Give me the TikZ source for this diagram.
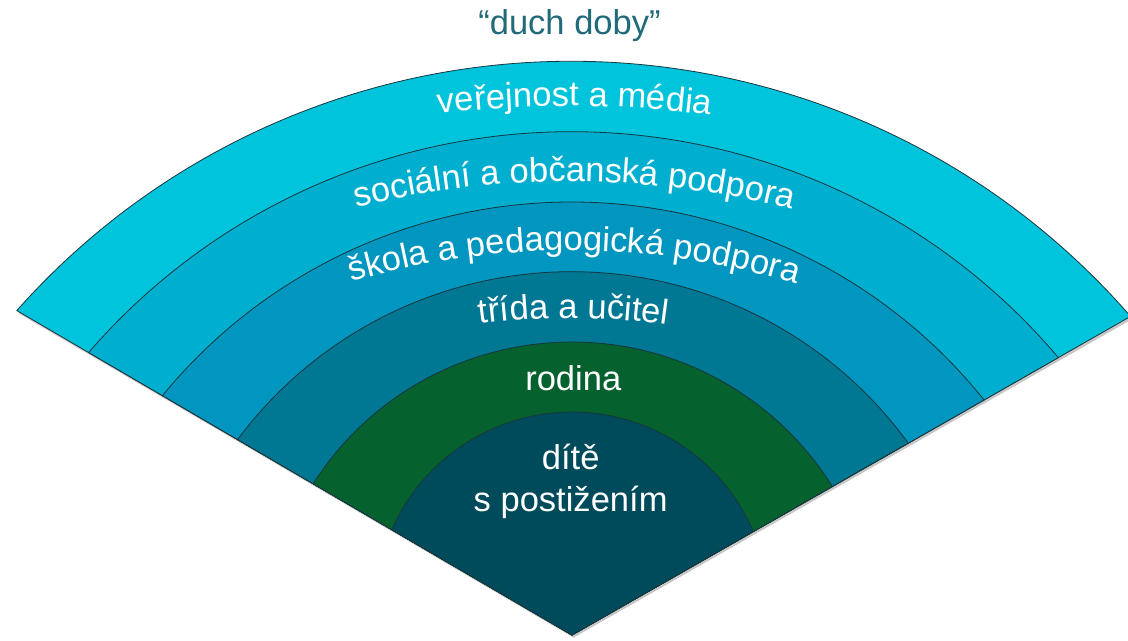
\documentclass[tikz,border=0pt]{standalone}
\usepackage{fontspec}
\setmainfont{Liberation Sans}
\usetikzlibrary{decorations.text,shadows}
\definecolor{cA}{HTML}{00C3DC}
\definecolor{cB}{HTML}{00AFD0}
\definecolor{cC}{HTML}{0096BF}
\definecolor{cD}{HTML}{007894}
\definecolor{cE}{HTML}{05612E}
\definecolor{cF}{HTML}{004B5B}
\definecolor{edgec}{HTML}{17363D}
\definecolor{titlec}{HTML}{216A7A}
\newcommand\bandfont{\fontsize{25.9pt}{31.3pt}\selectfont}
\begin{document}
\begin{tikzpicture}[x=0.75pt,y=0.75pt,
  band/.style={draw=edgec, line width=0.6pt, line join=round},
  lbl/.style={text=white, font=\bandfont, inner sep=0pt},
  arctext/.style={decorate, decoration={text along path, text align=center,
      text color=white, text={|\bandfont|#1}}}]
\useasboundingbox (0,0) rectangle (1128,640);
\coordinate (A) at (572,5);
\begin{scope}[rotate around={-0.3:(A)}]
  \path[band, fill=cA, drop shadow={shadow xshift=1.2pt, shadow yshift=-2pt, opacity=0.45}]
    (A) -- ++(150:482.3pt) arc[start angle=138.73, end angle=41.27, radius=555.75pt] -- cycle;
  \path[band, fill=cB]
    (A) -- ++(150:419.9pt) arc[start angle=139.47, end angle=40.53, radius=478.5pt] -- cycle;
  \path[band, fill=cC]
    (A) -- ++(150:355.8pt) arc[start angle=140.96, end angle=39.04, radius=396.75pt] -- cycle;
  \path[band, fill=cD]
    (A) -- ++(150:290.5pt) arc[start angle=143.67, end angle=36.33, radius=312.2pt] -- cycle;
  \path[band, fill=cE]
    (A) -- ++(150:224.85pt) arc[start angle=147.73, end angle=32.27, radius=230.25pt] -- cycle;
  \path[band, fill=cF]
    (A) -- ++(150:156.5pt) arc[start angle=156.56, end angle=23.44, radius=147.75pt] -- cycle;

  \path[arctext={veřejnost a média}]
    ([shift={(104:825pt)}]572,-566) arc[start angle=104, end angle=76, radius=825pt];
  \path[arctext={sociální a občanská podpora}]
    ([shift={(110:675pt)}]572,-441.5) arc[start angle=110, end angle=70, radius=675pt];
  \path[arctext={škola a pedagogická podpora}]
    ([shift={(112:585pt)}]572,-390.5) arc[start angle=112, end angle=68, radius=585pt];
  \path[arctext={třída a učitel}]
    ([shift={(102:525pt)}]572,-378) arc[start angle=102, end angle=78, radius=525pt];

  \node[lbl, anchor=base] (rodina) at (572,250) {rodina};
  \node[lbl, anchor=base, align=center] (dite) at (570,128.3) {dítě\\s postižením};
\end{scope}
\node[font=\bandfont, text=titlec, anchor=base, inner sep=0pt] (title) at (569.5,605) {“duch doby”};
\end{tikzpicture}
\end{document}
